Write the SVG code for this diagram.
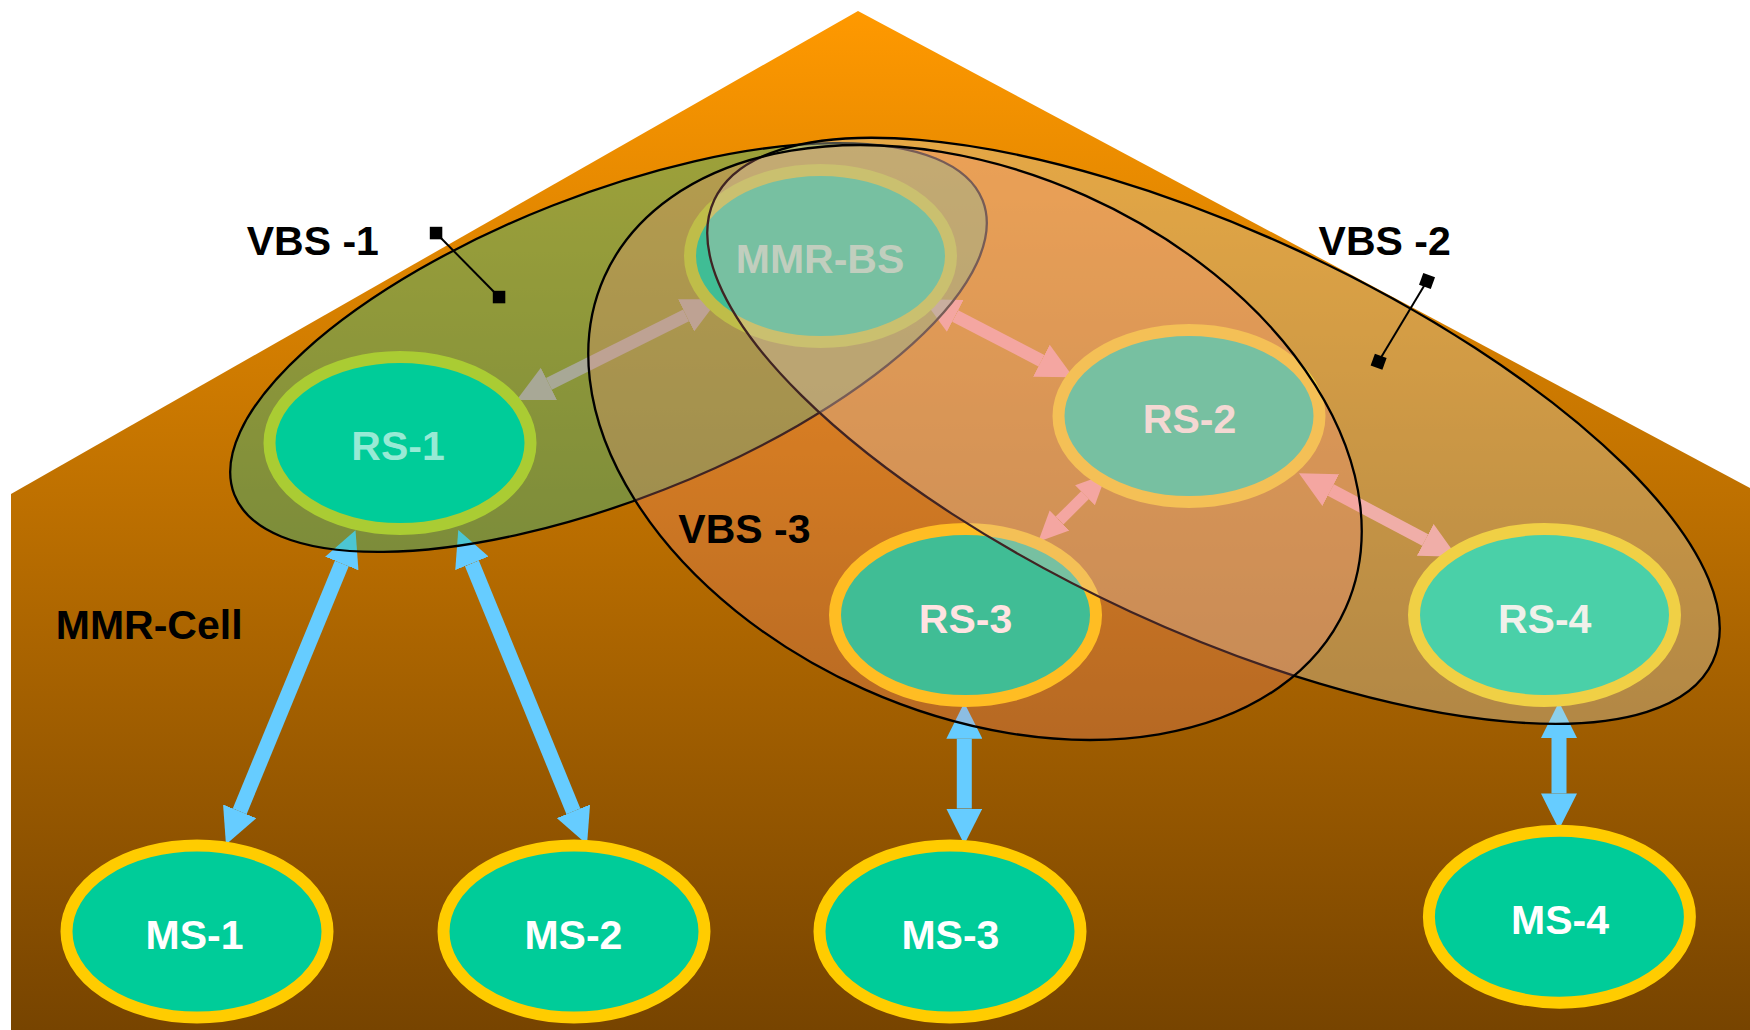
<svg xmlns="http://www.w3.org/2000/svg" width="1750" height="1030" viewBox="0 0 1750 1030">
<defs>
  <linearGradient id="bg" gradientUnits="userSpaceOnUse" x1="0" y1="11" x2="0" y2="1030">
    <stop offset="0" stop-color="#FF9900"/>
    <stop offset="1" stop-color="#774400"/>
  </linearGradient>
  <marker id="mb" viewBox="0 0 36 36" refX="0" refY="18" markerWidth="36" markerHeight="36" markerUnits="userSpaceOnUse" orient="auto-start-reverse">
    <path d="M0,0 L36,18 L0,36 z" fill="#66CCFF"/>
  </marker>
  <marker id="mp" viewBox="0 0 36 36" refX="0" refY="18" markerWidth="36" markerHeight="36" markerUnits="userSpaceOnUse" orient="auto-start-reverse">
    <path d="M0,0 L36,18 L0,36 z" fill="#FF9999"/>
  </marker>
  <marker id="mps" viewBox="0 0 30 30" refX="0" refY="15" markerWidth="30" markerHeight="30" markerUnits="userSpaceOnUse" orient="auto-start-reverse">
    <path d="M0,1 L30,15 L0,29 z" fill="#FF9999"/>
  </marker>
  <style>
    .node ellipse { fill:#00CC99; stroke-width:12; }
    .yel ellipse { stroke:#FFCC00; }
    .grn ellipse { stroke:#AACC33; }
    .lbl { font-family:"Liberation Sans", Arial, sans-serif; font-weight:bold; font-size:41px; }
    .nl { fill:#FFFFFF; text-anchor:middle; }
    .fade { fill-opacity:0.6; }
    .vbs { stroke:#000000; stroke-width:2.3; }
    .blue { stroke:#66CCFF; stroke-width:15; fill:none; marker-start:url(#mb); marker-end:url(#mb); }
    .pink { stroke:#FF9999; stroke-width:13; fill:none; marker-start:url(#mp); marker-end:url(#mp); }
    .pinks { stroke:#FF9999; stroke-width:11; fill:none; marker-start:url(#mps); marker-end:url(#mps); }
    .call { stroke:#000000; stroke-width:2; fill:none; }
  </style>
</defs>

<polygon id="mmr-cell-area" points="11,1030 11,494 858,11 1750,488 1750,1030" fill="url(#bg)"/>

<g id="connectors">
  <line class="blue" x1="341.8" y1="563.5" x2="239.7" y2="811.3"/>
  <line class="blue" x1="471.9" y1="563.3" x2="573.4" y2="811.3"/>
  <line class="blue" x1="964.3" y1="738.7" x2="964.3" y2="808.6"/>
  <line class="blue" x1="1559" y1="738" x2="1559" y2="793.4"/>
  <line class="pink" x1="548.9" y1="383.9" x2="686.1" y2="315.4"/>
  <line class="pink" x1="955.2" y1="315.9" x2="1041.4" y2="360.7"/>
  <line class="pinks" x1="1085" y1="495.2" x2="1059.5" y2="520.5"/>
  <line class="pink" x1="1330.8" y1="490.1" x2="1425.2" y2="539.9"/>
</g>

<g id="vbs-1">
  <ellipse class="vbs" cx="608.5" cy="347.5" rx="402" ry="152.6" transform="rotate(-21.46 608.5 347.5)" fill="rgb(37,190,145)" fill-opacity="0.4"/>
</g>

<g id="rs-1" class="node grn">
  <ellipse cx="400" cy="443" rx="130.5" ry="86"/>
  <text class="lbl nl fade" x="398" y="460">RS-1</text>
</g>
<g id="mmr-bs" class="node grn">
  <ellipse cx="820.5" cy="256" rx="130.5" ry="86"/>
  <text class="lbl nl fade" x="820" y="272.7">MMR-BS</text>
</g>
<g id="rs-2" class="node yel">
  <ellipse cx="1189" cy="416" rx="130.5" ry="86"/>
  <text class="lbl nl" x="1189.5" y="433.3">RS-2</text>
</g>
<g id="rs-3" class="node yel">
  <ellipse cx="965.5" cy="615" rx="130.5" ry="86"/>
  <text class="lbl nl" x="965.5" y="633">RS-3</text>
</g>
<g id="rs-4" class="node yel">
  <ellipse cx="1544.5" cy="615" rx="130.5" ry="86"/>
  <text class="lbl nl" x="1544.7" y="632.7">RS-4</text>
</g>
<g id="ms-1" class="node yel">
  <ellipse cx="197" cy="931.5" rx="130.5" ry="86"/>
  <text class="lbl nl" x="194.5" y="948.6">MS-1</text>
</g>
<g id="ms-2" class="node yel">
  <ellipse cx="574" cy="931.5" rx="130.5" ry="86"/>
  <text class="lbl nl" x="573.4" y="948.6">MS-2</text>
</g>
<g id="ms-3" class="node yel">
  <ellipse cx="950" cy="931.5" rx="130.5" ry="86"/>
  <text class="lbl nl" x="950.4" y="948.6">MS-3</text>
</g>
<g id="ms-4" class="node yel">
  <ellipse cx="1559.4" cy="916.7" rx="130.5" ry="86"/>
  <text class="lbl nl" x="1560" y="934">MS-4</text>
</g>

<g id="vbs-2">
  <ellipse class="vbs" cx="1213.5" cy="430.8" rx="550" ry="199" transform="rotate(24.8 1213.5 430.8)" fill="rgb(212,215,198)" fill-opacity="0.35"/>
</g>
<g id="vbs-3">
  <ellipse class="vbs" cx="975" cy="442.5" rx="406" ry="270.5" transform="rotate(24.1 975 442.5)" fill="rgb(255,145,140)" fill-opacity="0.25"/>
</g>

<g id="labels">
  <text class="lbl" x="246.7" y="255">VBS -1</text>
  <text class="lbl" x="1318.6" y="255">VBS -2</text>
  <text class="lbl" x="678.3" y="543.3">VBS -3</text>
  <text class="lbl" x="55.8" y="638.5">MMR-Cell</text>
</g>

<g id="callout-vbs-1">
  <line class="call" x1="436" y1="233" x2="499" y2="297"/>
  <rect x="429.8" y="226.8" width="12.5" height="12.5" fill="#000"/>
  <rect x="492.8" y="290.8" width="12.5" height="12.5" fill="#000"/>
</g>
<g id="callout-vbs-2">
  <line class="call" x1="1427" y1="281" x2="1378.6" y2="361.6"/>
  <rect x="1420.8" y="274.8" width="12.5" height="12.5" fill="#000" transform="rotate(20 1427 281)"/>
  <rect x="1372.4" y="355.4" width="12.5" height="12.5" fill="#000" transform="rotate(20 1378.6 361.6)"/>
</g>
</svg>
